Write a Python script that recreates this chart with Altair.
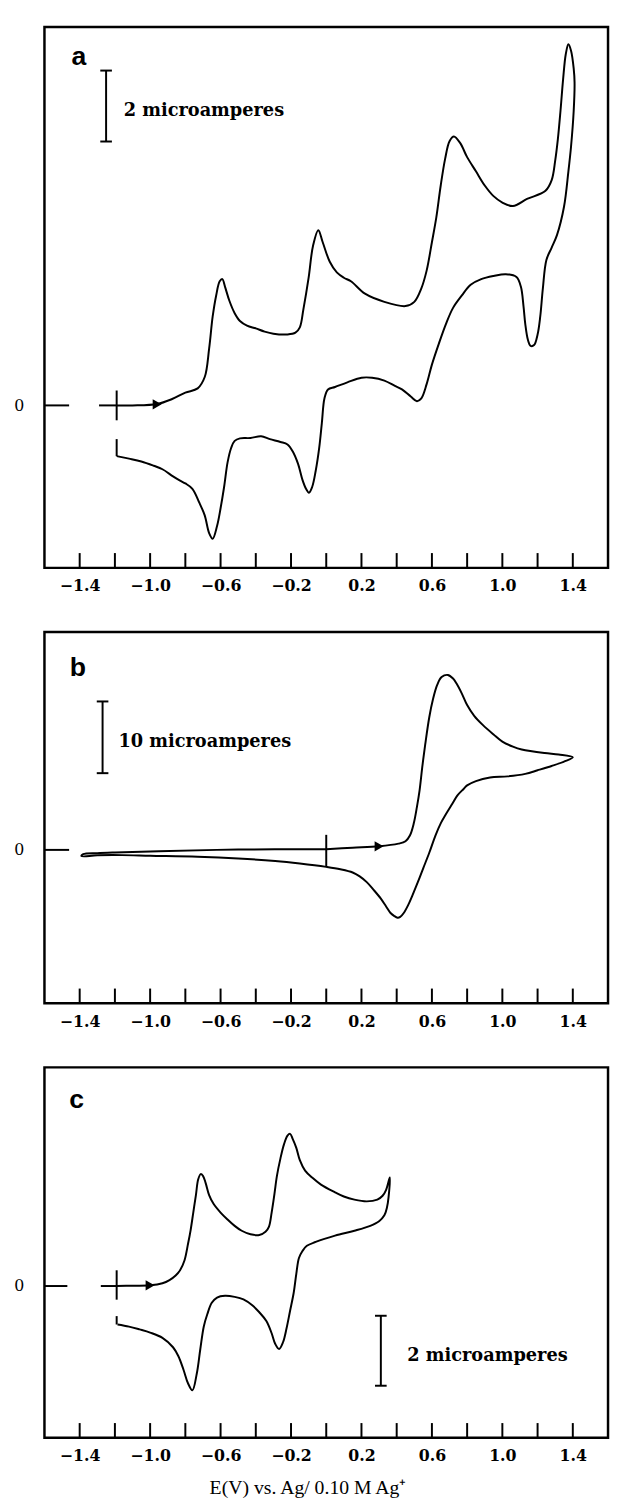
import altair as alt
import pandas as pd

# ---------------- data ----------------
# panel a : potential (V) and current (microamperes), in scan order
A_V = [-1.19, -1.10, -0.96, -0.875, -0.80, -0.73, -0.69, -0.665, -0.645, -0.625, -0.605, -0.59,
       -0.575, -0.55, -0.52, -0.49, -0.45, -0.40, -0.35, -0.30, -0.22, -0.175, -0.15, -0.13,
       -0.10, -0.075, -0.045, -0.02, 0.02, 0.06, 0.10, 0.14, 0.22, 0.33, 0.45, 0.50, 0.54, 0.57,
       0.60, 0.625, 0.65, 0.675, 0.70, 0.725, 0.76, 0.80, 0.85, 0.90, 0.95, 1.00, 1.06, 1.14,
       1.245, 1.28, 1.30, 1.315, 1.33, 1.345, 1.36, 1.375, 1.39, 1.405, 1.41,
       1.405, 1.39, 1.375, 1.35, 1.31, 1.28, 1.25, 1.23, 1.215, 1.20, 1.18, 1.16, 1.145, 1.13,
       1.12, 1.105, 1.08, 1.02, 0.95, 0.88, 0.82, 0.77, 0.72, 0.68, 0.64, 0.60, 0.57, 0.54,
       0.515, 0.48, 0.43, 0.39, 0.33, 0.26, 0.20, 0.12, 0.05, 0.01, -0.01, -0.025, -0.04,
       -0.06, -0.08, -0.098, -0.115, -0.135, -0.16, -0.19, -0.22, -0.26, -0.32, -0.37, -0.43,
       -0.49, -0.52, -0.54, -0.56, -0.58, -0.60, -0.62, -0.645, -0.665, -0.69, -0.72, -0.76,
       -0.80, -0.83, -0.87, -0.93, -0.98, -1.05, -1.12, -1.19]
A_I = [0.0, 0.0, 0.04, 0.18, 0.36, 0.48, 0.8, 1.6, 2.5, 3.1, 3.5, 3.56,
       3.35, 2.95, 2.6, 2.38, 2.25, 2.17, 2.08, 2.02, 2.0, 2.05, 2.2, 2.7,
       3.6, 4.5, 4.94, 4.6, 4.05, 3.75, 3.6, 3.5, 3.15, 2.92, 2.8, 2.92, 3.3, 3.8,
       4.6, 5.3, 6.2, 6.95, 7.45, 7.58, 7.4, 7.0, 6.6, 6.2, 5.9, 5.72, 5.62, 5.82,
       6.05, 6.35, 6.9, 7.5, 8.3, 9.2, 9.9, 10.18, 10.0, 9.5, 9.1,
       8.3, 7.3, 6.6, 5.6, 4.8, 4.45, 4.1, 3.3, 2.5, 2.0, 1.7, 1.68, 1.85, 2.3,
       2.8, 3.35, 3.62, 3.7, 3.65, 3.56, 3.4, 3.1, 2.75, 2.3, 1.75, 1.15, 0.6, 0.2,
       0.12, 0.25, 0.45, 0.55, 0.7, 0.78, 0.78, 0.65, 0.52, 0.45, 0.2, -0.5, -1.2,
       -1.85, -2.3, -2.46, -2.35, -2.1, -1.65, -1.3, -1.1, -1.03, -0.95, -0.87, -0.92,
       -0.93, -1.0, -1.2, -1.6, -2.3, -2.9, -3.4, -3.76, -3.6, -3.1, -2.75, -2.35,
       -2.2, -2.12, -2.0, -1.8, -1.7, -1.58, -1.5, -1.43]

# panel b
B_V = [0.0, 0.15, 0.30, 0.41, 0.45, 0.475, 0.497, 0.515, 0.53, 0.545, 0.562, 0.585, 0.606,
       0.63, 0.655, 0.69, 0.72, 0.74, 0.77, 0.80, 0.84, 0.89, 0.95, 1.00, 1.06, 1.11, 1.24,
       1.32, 1.40,
       1.35, 1.28, 1.20, 1.13, 1.03, 0.93, 0.85, 0.80, 0.78, 0.745, 0.715, 0.68, 0.65, 0.62,
       0.585, 0.55, 0.52, 0.49, 0.465, 0.44, 0.42, 0.405, 0.385, 0.365, 0.34, 0.31, 0.27,
       0.23, 0.19, 0.15, 0.08, 0.0, -0.15, -0.29, -0.5, -0.73, -1.0, -1.16, -1.3, -1.39,
       -1.38, -1.3, -1.2, -0.95, -0.5, 0.0]
B_I = [0.1, 0.3, 0.5, 0.87, 1.2, 2.0, 3.7, 6.0, 8.3, 11.5, 14.7, 18.5, 21.0,
       23.0, 24.1, 24.4, 23.9, 23.2, 21.8, 20.2, 18.7, 17.4, 16.1, 15.1, 14.4, 14.0, 13.5,
       13.3, 12.9,
       12.3, 11.7, 11.1, 10.6, 10.25, 10.1, 9.6, 9.0, 8.5, 7.6, 6.4, 5.0, 3.7, 2.0,
       -0.4, -2.6, -4.5, -6.3, -7.7, -8.8, -9.35, -9.45, -9.2, -8.8, -7.9, -6.8, -5.6,
       -4.5, -3.7, -3.15, -2.7, -2.37, -1.9, -1.55, -1.2, -0.96, -0.82, -0.73, -0.75, -0.87,
       -0.6, -0.45, -0.35, -0.18, 0.05, 0.1]

# panel c
C_V = [-1.19, -1.10, -1.0, -0.93, -0.89, -0.855, -0.83, -0.805, -0.785, -0.77, -0.755, -0.74,
       -0.727, -0.713, -0.70, -0.685, -0.665, -0.64, -0.60, -0.56, -0.52, -0.48, -0.43, -0.38,
       -0.345, -0.325, -0.31, -0.295, -0.28, -0.26, -0.24, -0.22, -0.205, -0.19, -0.17, -0.15,
       -0.12, -0.08, -0.03, 0.05, 0.10, 0.16, 0.23, 0.29, 0.32, 0.34, 0.361,
       0.354, 0.345, 0.33, 0.30, 0.25, 0.16, 0.05, -0.06, -0.11, -0.135, -0.155, -0.17,
       -0.185, -0.205, -0.225, -0.245, -0.268, -0.29, -0.31, -0.34, -0.38, -0.42, -0.47,
       -0.52, -0.575, -0.62, -0.65, -0.675, -0.695, -0.715, -0.735, -0.76, -0.785, -0.81,
       -0.84, -0.87, -0.93, -1.0, -1.06, -1.12, -1.185]
C_I = [0.0, 0.01, 0.02, 0.08, 0.17, 0.3, 0.45, 0.73, 1.2, 1.6, 2.1, 2.6,
       3.05, 3.2, 3.15, 2.95, 2.6, 2.35, 2.1, 1.9, 1.72, 1.58, 1.48, 1.46,
       1.55, 1.7, 2.1, 2.6, 3.15, 3.65, 4.05, 4.3, 4.35, 4.2, 3.95, 3.6,
       3.3, 3.1, 2.9, 2.68, 2.56, 2.47, 2.42, 2.47, 2.58, 2.75, 3.1,
       2.55, 2.25, 2.02, 1.85, 1.72, 1.58, 1.44, 1.26, 1.15, 1.0, 0.8, 0.35,
       -0.2, -0.7, -1.2, -1.6, -1.8, -1.65, -1.35, -1.0, -0.75, -0.55, -0.38,
       -0.31, -0.28, -0.33, -0.48, -0.8, -1.15, -1.8, -2.5, -2.98, -2.78, -2.4,
       -2.0, -1.75, -1.48, -1.33, -1.24, -1.16, -1.1]

X_TICKS = [-1.4, -1.2, -1.0, -0.8, -0.6, -0.4, -0.2, 0.0, 0.2, 0.4, 0.6, 0.8, 1.0, 1.2, 1.4]
X_DOMAIN = [-1.6, 1.6]
X_TITLE = "E(V) vs. Ag/ 0.10 M Ag\u207a"

PANELS = [
    dict(name="a", V=A_V, I=A_I, ydom=[-4.58, 10.67], height=549,
         start=-1.19, cross=(0.42, -0.42), endbar=(-1.43, -0.95),
         zero_dash=[(-1.6, -1.46), (-1.29, -1.19)], arrow=(-0.96, 0.03),
         bar=dict(v=-1.25, lo=7.44, hi=9.44, cap=0.033, label="2 microamperes", tv=-1.15, ti=8.3),
         letter=(-1.405, 9.83)),
    dict(name="b", V=B_V, I=B_I, ydom=[-21.4, 30.4], height=377,
         start=0.0, cross=(2.1, -2.37), endbar=None,
         zero_dash=[(-1.6, -1.46)], arrow=(0.30, 0.5),
         bar=dict(v=-1.27, lo=10.7, hi=20.7, cap=0.033, label="10 microamperes", tv=-1.18, ti=15.1),
         letter=(-1.41, 25.3)),
    dict(name="c", V=C_V, I=C_I, ydom=[-4.34, 6.25], height=376,
         start=-1.19, cross=(0.45, -0.39), endbar=(-1.1, -0.86),
         zero_dash=[(-1.6, -1.47), (-1.28, -1.19)], arrow=(-1.0, 0.02),
         bar=dict(v=0.31, lo=-2.85, hi=-0.85, cap=0.033, label="2 microamperes", tv=0.46, ti=-2.0),
         letter=(-1.417, 5.32)),
]

W = 572
LABEL_FONT = "DejaVu Serif"


def build(p, last):
    xscale = alt.Scale(domain=X_DOMAIN, nice=False, zero=False)
    yscale = alt.Scale(domain=p["ydom"], nice=False, zero=False)
    xaxis = alt.Axis(values=X_TICKS, ticks=False, domain=False, grid=False,
                     labelExpr="abs(round(datum.value*10)) % 4 == 2 ? format(datum.value, '.1f') : ''",
                     labelFont=LABEL_FONT, labelFontSize=16, labelFontWeight="bold",
                     labelColor="black", labelPadding=10, labelFlush=False, labelOverlap=False,
                     title=X_TITLE if last else None, titleFont="Liberation Serif",
                     titleFontSize=20, titleFontWeight="normal", titleColor="black",
                     titlePadding=14, titleX=267)
    yaxis = alt.Axis(values=[0], ticks=False, domain=False, grid=False, labelExpr="'0'",
                     labelFont=LABEL_FONT, labelFontSize=16, labelColor="black",
                     labelPadding=21, title=None)

    def X(f):
        return alt.X(f, type="quantitative", scale=xscale, axis=xaxis)

    def Y(f):
        return alt.Y(f, type="quantitative", scale=yscale, axis=yaxis)

    h = p["height"]
    df = pd.DataFrame({"V": p["V"], "I": p["I"], "k": list(range(len(p["V"])))})
    curve = alt.Chart(df).mark_line(color="black", strokeWidth=2, interpolate="catmull-rom").encode(
        x=X("V"), y=Y("I"), order="k:Q")

    zd = pd.DataFrame({"a": [s[0] for s in p["zero_dash"]], "b": [s[1] for s in p["zero_dash"]],
                       "z": [0.0] * len(p["zero_dash"])})
    zero = alt.Chart(zd).mark_rule(color="black", strokeWidth=2).encode(
        x=X("a"), x2="b", y=Y("z"))

    cr = pd.DataFrame({"v": [p["start"]], "t": [p["cross"][0]], "u": [p["cross"][1]]})
    cross = alt.Chart(cr).mark_rule(color="black", strokeWidth=2).encode(x=X("v"), y=Y("t"), y2="u")

    layers = [curve, zero, cross]
    if p["endbar"] is not None:
        eb = pd.DataFrame({"v": [p["start"]], "t": [p["endbar"][0]], "u": [p["endbar"][1]]})
        layers.append(alt.Chart(eb).mark_rule(color="black", strokeWidth=2).encode(
            x=X("v"), y=Y("t"), y2="u"))

    ar = pd.DataFrame({"v": [p["arrow"][0]], "i": [p["arrow"][1]]})
    layers.append(alt.Chart(ar).mark_point(shape="triangle-right", filled=True, color="black",
                                           size=110, opacity=1).encode(x=X("v"), y=Y("i")))

    b = p["bar"]
    bd = pd.DataFrame({"v": [b["v"]], "lo": [b["lo"]], "hi": [b["hi"]]})
    layers.append(alt.Chart(bd).mark_rule(color="black", strokeWidth=2).encode(
        x=X("v"), y=Y("lo"), y2="hi"))
    cd = pd.DataFrame({"a": [b["v"] - b["cap"]] * 2, "b": [b["v"] + b["cap"]] * 2,
                       "y": [b["lo"], b["hi"]]})
    layers.append(alt.Chart(cd).mark_rule(color="black", strokeWidth=2).encode(
        x=X("a"), x2="b", y=Y("y")))
    td = pd.DataFrame({"v": [b["tv"]], "i": [b["ti"]], "t": [b["label"]]})
    layers.append(alt.Chart(td).mark_text(align="left", baseline="middle", font=LABEL_FONT,
                                          fontSize=18, fontWeight="bold", color="black").encode(
        x=X("v"), y=Y("i"), text="t:N"))

    ld = pd.DataFrame({"v": [p["letter"][0]], "i": [p["letter"][1]], "t": [p["name"]]})
    layers.append(alt.Chart(ld).mark_text(align="center", baseline="middle", font="Liberation Sans",
                                          fontSize=27, fontWeight="bold", color="black").encode(
        x=X("v"), y=Y("i"), text="t:N"))

    tk = pd.DataFrame({"x": X_TICKS})
    layers.append(alt.Chart(tk).mark_rule(color="black", strokeWidth=2).encode(
        x=X("x"), y=alt.value(h), y2=alt.value(h - 15)))

    return alt.layer(*layers).properties(width=W, height=h)


charts = [build(p, i == len(PANELS) - 1) for i, p in enumerate(PANELS)]
chart = alt.vconcat(*charts, spacing=35).configure(
    padding={"left": 4, "top": 6, "right": 0, "bottom": 0}, background="white",
    view=alt.ViewConfig(stroke="black", strokeWidth=2.5))

chart.save("out.html", embed_options={"renderer": "svg", "actions": False})
